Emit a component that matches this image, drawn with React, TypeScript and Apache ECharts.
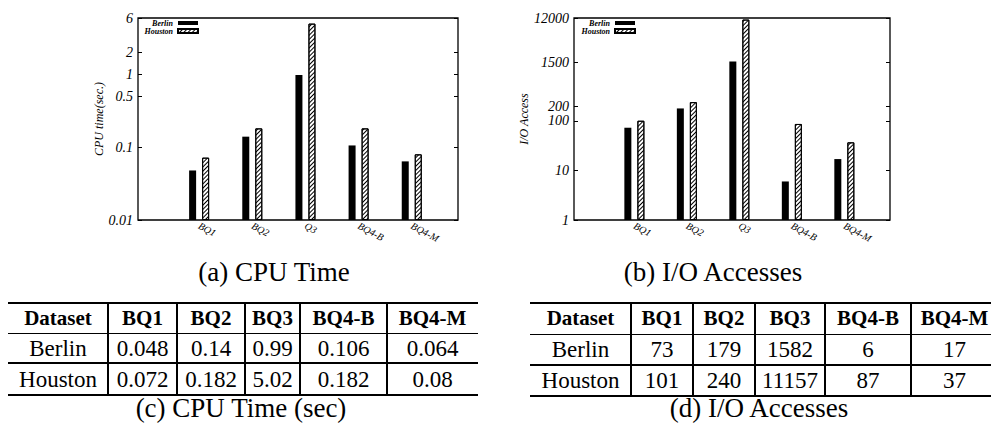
import React, { useEffect, useRef } from "react";
import * as echarts from "echarts";

const chartCategories = ["BQ1", "BQ2", "Q3", "BQ4-B", "BQ4-M"];
const tableHeader = ["Dataset", "BQ1", "BQ2", "BQ3", "BQ4-B", "BQ4-M"];
const datasets = ["Berlin", "Houston"];

const cpuBerlin = [0.048, 0.14, 0.99, 0.106, 0.064];
const cpuHouston = [0.072, 0.182, 5.02, 0.182, 0.08];
const ioBerlin = [73, 179, 1582, 6, 17];
const ioHouston = [101, 240, 11157, 87, 37];

const cpuTicks = [0.01, 0.1, 0.5, 1, 2, 6];
const ioTicks = [1, 10, 100, 200, 1500, 12000];

const captions = ["(a) CPU Time", "(b) I/O Accesses", "(c) CPU Time (sec)", "(d) I/O Accesses"];

const SERIF_NAME = "Liberation Serif";
const SERIF_CSS = '"Liberation Serif", "Times New Roman", serif';

type TableSpec = {
  edges: number[];
  right: number;
  lines: number[];
  lineWidths: number[];
  rows: string[][];
};

function Table({ spec }: { spec: TableSpec }) {
  const { edges, right, lines, lineWidths, rows } = spec;
  const allRows = [tableHeader, ...rows];
  const els: React.ReactNode[] = [];
  lines.forEach((y, i) => {
    els.push(
      <div
        key={"h" + i}
        style={{
          position: "absolute",
          left: edges[0],
          top: y - lineWidths[i] / 2,
          width: right - edges[0],
          height: lineWidths[i],
          background: "#000",
        }}
      />
    );
  });
  for (let c = 1; c < edges.length - 1; c++) {
    els.push(
      <div
        key={"v" + c}
        style={{
          position: "absolute",
          left: edges[c] - 0.75,
          top: lines[0],
          width: 1.5,
          height: lines[lines.length - 1] - lines[0],
          background: "#000",
        }}
      />
    );
  }
  allRows.forEach((row, r) => {
    row.forEach((txt, c) => {
      els.push(
        <div
          key={"t" + r + "_" + c}
          style={{
            position: "absolute",
            left: edges[c],
            width: edges[c + 1] - edges[c],
            top: lines[r],
            height: lines[r + 1] - lines[r],
            display: "flex",
            alignItems: "center",
            justifyContent: "center",
            fontFamily: SERIF_CSS,
            fontSize: r === 0 ? 21 : 23,
            fontWeight: r === 0 ? "bold" : "normal",
            color: "#000",
            whiteSpace: "nowrap",
            lineHeight: 1,
          }}
        >
          {txt}
        </div>
      );
    });
  });
  return <>{els}</>;
}

function caption(text: string, x: number, y: number) {
  return {
    type: "text",
    x,
    y,
    style: {
      text,
      fill: "#000",
      font: `27px ${SERIF_NAME}`,
      textAlign: "center",
      textVerticalAlign: "middle",
      align: "center",
      verticalAlign: "middle",
    },
  };
}

const fmt = (v: number) => String(+Number(v).toPrecision(4));

// log-scaled value axis, measured in decades above the axis minimum
const toLog = (v: number, base: number) => Math.log10(v / base);

function yAxes(gridIndex: number, min: number, max: number, ticks: number[], name: string, nameGap: number) {
  const tickPos = ticks.map((t) => toLog(t, min));
  const common = {
    type: "value",
    gridIndex,
    min: 0,
    max: toLog(max, min),
    splitLine: { show: false },
    minorTick: { show: false },
    axisLine: { show: false, onZero: false },
  };
  return [
    {
      ...common,
      position: "left",
      name,
      nameLocation: "middle",
      nameGap,
      nameTextStyle: { fontStyle: "italic", fontFamily: SERIF_NAME, fontSize: 12, color: "#000" },
      axisTick: { show: true, inside: true, length: 4, customValues: tickPos, lineStyle: { color: "#000", width: 1 } },
      axisLabel: {
        show: true,
        customValues: tickPos,
        formatter: (v: number) => fmt(min * Math.pow(10, v)),
        fontStyle: "italic",
        fontFamily: SERIF_NAME,
        fontSize: 14,
        color: "#000",
        margin: 5,
      },
    },
    {
      ...common,
      position: "right",
      axisTick: { show: true, inside: true, length: 4, customValues: tickPos, lineStyle: { color: "#000", width: 1 } },
      axisLabel: { show: false },
    },
  ];
}

function xAxis(gridIndex: number) {
  return {
    type: "value",
    gridIndex,
    min: -1.15,
    max: 4.87,
    splitLine: { show: false },
    axisLine: { show: false, onZero: false },
    axisTick: { show: false },
    axisLabel: {
      show: true,
      customValues: chartCategories.map((_, i) => i),
      formatter: (v: number) => chartCategories[Math.round(v)] ?? "",
      rotate: -28,
      margin: 5,
      fontStyle: "italic",
      fontFamily: SERIF_NAME,
      fontSize: 10,
      color: "#000",
    },
  };
}

const hatch = {
  symbol: "rect",
  symbolSize: 1,
  dashArrayX: [1, 0],
  dashArrayY: [1, 1.6],
  rotation: -Math.PI / 4,
  color: "#000",
};

function barSeries(name: string, values: number[], base: number, axisIdx: number, yIdx: number, hatched: boolean) {
  return {
    type: "bar",
    name,
    xAxisIndex: axisIdx,
    yAxisIndex: yIdx,
    barWidth: 7,
    barGap: "86%",
    data: values.map((v, i) => [i, toLog(v, base)]),
    itemStyle: hatched
      ? { color: "#fff", borderColor: "#000", borderWidth: 1, decal: hatch }
      : { color: "#000" },
  };
}

function legend(right: number) {
  return {
    data: datasets,
    orient: "vertical",
    align: "right",
    right,
    top: 19,
    padding: 0,
    itemGap: 0,
    itemWidth: 20,
    itemHeight: 4,
    icon: "rect",
    selectedMode: false,
    textStyle: { fontSize: 8, fontStyle: "italic", fontWeight: "bold", fontFamily: SERIF_NAME, color: "#000", lineHeight: 7 },
  };
}

export default function App() {
  const ref = useRef<HTMLDivElement>(null);
  useEffect(() => {
    if (!ref.current) return;
    const chart = echarts.init(ref.current, null, { renderer: "svg" });
    const cpuMin = cpuTicks[0];
    const ioMin = ioTicks[0];
    chart.setOption({
      animation: false,
      backgroundColor: "transparent",
      grid: [
        { left: 138, top: 18, width: 320, height: 202, show: true, borderColor: "#000", borderWidth: 1.3, backgroundColor: "transparent" },
        { left: 574, top: 18, width: 316, height: 202, show: true, borderColor: "#000", borderWidth: 1.3, backgroundColor: "transparent" },
      ],
      legend: [legend(792), legend(355)],
      xAxis: [xAxis(0), xAxis(1)],
      yAxis: [
        ...yAxes(0, cpuMin, cpuTicks[cpuTicks.length - 1], cpuTicks, "CPU time(sec.)", 29),
        ...yAxes(1, ioMin, ioTicks[ioTicks.length - 1], ioTicks, "I/O Access", 35),
      ],
      series: [
        barSeries(datasets[0], cpuBerlin, cpuMin, 0, 0, false),
        barSeries(datasets[1], cpuHouston, cpuMin, 0, 0, true),
        barSeries(datasets[0], ioBerlin, ioMin, 1, 2, false),
        barSeries(datasets[1], ioHouston, ioMin, 1, 2, true),
      ],
      graphic: [
        caption(captions[0], 274, 272),
        caption(captions[1], 713, 272),
        caption(captions[2], 241, 408),
        caption(captions[3], 759, 408),
      ],
    });
    return () => chart.dispose();
  }, []);

  const cpuSpec: TableSpec = {
    edges: [8, 108, 177, 245, 300, 387, 478],
    right: 478,
    lines: [303, 333, 363, 395],
    lineWidths: [2, 1, 2, 2],
    rows: [
      [datasets[0], ...cpuBerlin.map(String)],
      [datasets[1], ...cpuHouston.map(String)],
    ],
  };
  const ioSpec: TableSpec = {
    edges: [530, 631, 693, 755, 825, 911, 998],
    right: 991,
    lines: [303, 334, 365, 396],
    lineWidths: [2, 1, 2, 2],
    rows: [
      [datasets[0], ...ioBerlin.map(String)],
      [datasets[1], ...ioHouston.map(String)],
    ],
  };

  return (
    <div style={{ position: "absolute", left: 0, top: 0, width: 991, height: 423, background: "#fff", overflow: "hidden" }}>
      <div ref={ref} style={{ position: "absolute", left: 0, top: 0, width: 991, height: 423 }} />
      <Table spec={cpuSpec} />
      <Table spec={ioSpec} />
    </div>
  );
}
